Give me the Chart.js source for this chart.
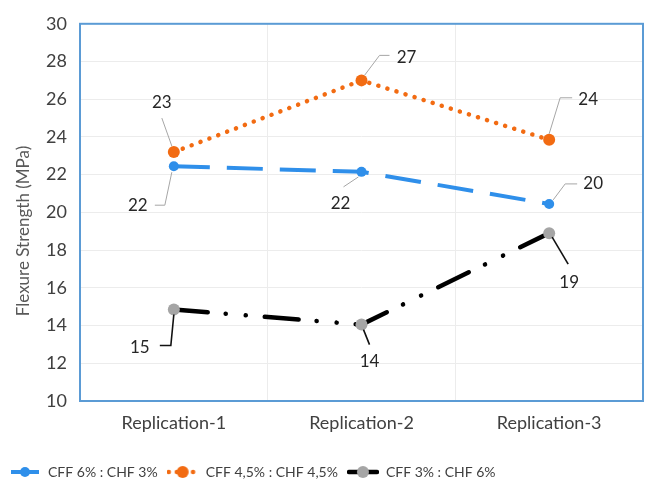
<!DOCTYPE html>
<html>
<head>
<meta charset="utf-8">
<script src="https://cdn.jsdelivr.net/npm/chart.js@4/dist/chart.umd.min.js"></script>
<style>
html,body{margin:0;padding:0;background:#fff;}
#wrap{width:654px;height:489px;}
</style>
</head>
<body>
<div id="wrap"><canvas id="c" width="654" height="489"></canvas></div>
<script>
// ---- data ----
const categories = ["Replication-1", "Replication-2", "Replication-3"];
const seriesNames = ["CFF 6% : CHF 3%", "CFF 4,5% : CHF 4,5%", "CFF 3% : CHF 6%"];
const cff6chf3 = [22.45, 22.15, 20.45];
const cff45chf45 = [23.2, 27.0, 23.85];
const cff3chf6 = [14.85, 14.05, 18.9];
const yTicks = [10, 12, 14, 16, 18, 20, 22, 24, 26, 28, 30];
const yTitle = "Flexure Strength (MPa)";

// ---- styles ----
const FONT = "Lato, 'Noto Sans', sans-serif";
const styles = [
  {color: "#2F8FEA", dash: [36, 17], cap: "butt", width: 4, marker: "#2F8FEA", radius: 5, leader: "#a6a6a6", leaderW: 1},
  {color: "#F26B12", dash: [0.1, 9.4], cap: "round", width: 4.5, marker: "#F26B12", radius: 6, leader: "#a6a6a6", leaderW: 1},
  {color: "#000000", dash: [34, 18, 0.1, 20, 0.1, 19], cap: "round", width: 4.5, marker: "#A5A5A5", radius: 6, leader: "#111111", leaderW: 1.6}
];
// label placements relative to each point (px): text centre and leader path
const labelPlacement = [
  [ {t:[-36,39], p:[[-2,6],[-9,39],[-19,39]]}, {t:[-21,32], p:[[-3,5],[-18,15]]}, {t:[44,-20], p:[[4,-4],[16,-20],[28,-20]]} ],
  [ {t:[-12,-50], p:[[-2,-6],[-12,-34]]}, {t:[45,-23], p:[[3,-5],[18,-25],[28,-25]]}, {t:[39,-40], p:[[0,-6],[11,-42],[23,-42]]} ],
  [ {t:[-34,38], p:[[0,5],[-3,36],[-14,36]]}, {t:[8,37], p:[[2,5],[8,20]]}, {t:[20,49], p:[[3,4],[19,31]]} ]
];

function legendIcon(s, dash) {
  const c = document.createElement('canvas');
  c.width = 32; c.height = 14;
  const g = c.getContext('2d');
  g.strokeStyle = s.color; g.lineWidth = s.width; g.lineCap = s.cap;
  g.setLineDash(dash);
  g.beginPath(); g.moveTo(2, 7); g.lineTo(30, 7); g.stroke();
  g.setLineDash([]);
  g.fillStyle = s.marker;
  g.beginPath(); g.arc(16, 7, s.radius, 0, Math.PI * 2); g.fill();
  return c;
}
const icons = [legendIcon(styles[0], []), legendIcon(styles[1], [0.1, 8]), legendIcon(styles[2], [])];

const seriesData = [cff6chf3, cff45chf45, cff3chf6];

const framePlugin = {
  id: 'frame',
  beforeDatasetsDraw(chart) {
    const a = chart.chartArea, ctx = chart.ctx;
    ctx.save();
    ctx.strokeStyle = "#5B9BD5"; ctx.lineWidth = 2;
    ctx.strokeRect(a.left, a.top, a.right - a.left, a.bottom - a.top);
    ctx.restore();
  },
  afterDraw(chart) {
    const ctx = chart.ctx;
    ctx.save();
    ctx.translate(24, 231);
    ctx.rotate(-Math.PI / 2);
    ctx.font = "17px " + FONT;
    ctx.fillStyle = "#595959";
    ctx.textAlign = "center"; ctx.textBaseline = "middle";
    ctx.fillText(yTitle, 0, 0);
    ctx.restore();
  }
};

const labelPlugin = {
  id: 'leaderLabels',
  afterDatasetsDraw(chart) {
    const ctx = chart.ctx;
    chart.data.datasets.forEach((ds, di) => {
      const meta = chart.getDatasetMeta(di);
      meta.data.forEach((pt, i) => {
        const pl = labelPlacement[di][i];
        const st = styles[di];
        ctx.save();
        ctx.strokeStyle = st.leader; ctx.lineWidth = st.leaderW;
        ctx.beginPath();
        pl.p.forEach((q, k) => { const x = pt.x + q[0], y = pt.y + q[1]; k ? ctx.lineTo(x, y) : ctx.moveTo(x, y); });
        ctx.stroke();
        ctx.font = "17px " + FONT;
        ctx.fillStyle = "#262626";
        ctx.textAlign = "center"; ctx.textBaseline = "middle";
        ctx.fillText(String(Math.round(ds.data[i])), pt.x + pl.t[0], pt.y + pl.t[1]);
        ctx.restore();
      });
    });
  }
};

new Chart(document.getElementById('c'), {
  type: 'line',
  data: {
    labels: categories,
    datasets: seriesData.map((d, i) => ({
      label: seriesNames[i],
      data: d,
      borderColor: styles[i].color,
      borderWidth: styles[i].width,
      borderDash: styles[i].dash,
      borderCapStyle: styles[i].cap,
      pointRadius: styles[i].radius,
      pointBackgroundColor: styles[i].marker,
      pointBorderColor: styles[i].marker,
      pointBorderWidth: 0,
      pointStyle: 'circle',
      tension: 0,
      fill: false
    }))
  },
  options: {
    responsive: false,
    animation: false,
    layout: {padding: {left: 0, right: 11, top: 18, bottom: 0}},
    plugins: {
      tooltip: {enabled: false},
      legend: {
        position: 'bottom',
        align: 'start',
        labels: {
          usePointStyle: true,
          pointStyleWidth: 32,
          padding: 9,
          color: "#404040",
          font: {family: FONT, size: 14},
          generateLabels(chart) {
            return chart.data.datasets.map((ds, i) => ({
              text: ds.label, pointStyle: icons[i], datasetIndex: i,
              fillStyle: styles[i].color, strokeStyle: styles[i].color, lineWidth: 0, fontColor: "#404040"
            }));
          }
        }
      }
    },
    scales: {
      x: {
        offset: true,
        grid: {offset: true, color: "#ececec", drawTicks: false},
        border: {display: false},
        ticks: {color: "#404040", font: {family: FONT, size: 18}, padding: 11},
        afterFit(scale) { scale.height = 55; }
      },
      y: {
        min: 10, max: 30,
        afterBuildTicks(scale) { scale.ticks = yTicks.map(v => ({value: v})); },
        afterFit(scale) { scale.width = 80; },
        grid: {color: "#ececec", drawTicks: false},
        border: {display: false},
        ticks: {color: "#404040", font: {family: FONT, size: 18}, padding: 13}
      }
    }
  },
  plugins: [framePlugin, labelPlugin]
});
</script>
</body>
</html>
